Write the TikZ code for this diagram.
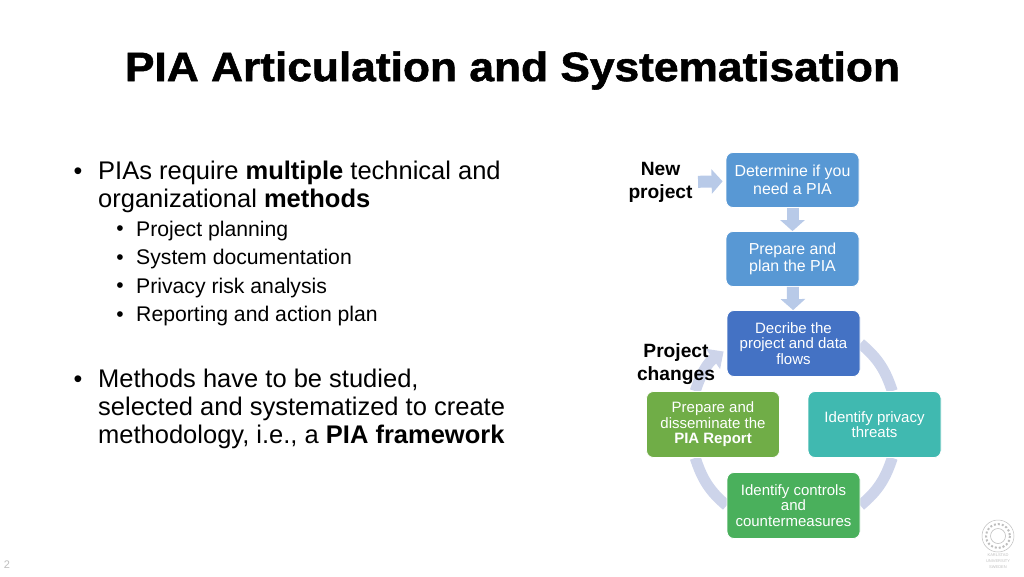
\documentclass[tikz,border=0pt]{standalone}
\usepackage{fontspec}
\setmainfont{Liberation Sans}
\newfontfamily\titlefont[FakeBold=1.3]{Liberation Sans Bold}
\usetikzlibrary{arrows.meta, calc, backgrounds}
\definecolor{boxblue}{RGB}{88,152,212}
\definecolor{boxdark}{RGB}{68,114,196}
\definecolor{boxteal}{RGB}{64,185,176}
\definecolor{boxgreen}{RGB}{74,176,92}
\definecolor{boxolive}{RGB}{112,173,71}
\definecolor{arrowblue}{RGB}{184,202,232}
\definecolor{ringblue}{RGB}{205,212,234}
\definecolor{logogrey}{RGB}{190,190,190}
\tikzset{
  stepbox/.style={draw=white, line width=0.8pt, rounded corners=7pt, text=white, align=center,
    font=\fontsize{15}{15.4}\selectfont, inner sep=0pt, minimum width=133pt, minimum height=66pt},
  topbox/.style={stepbox, fill=boxblue, minimum height=55pt, font=\fontsize{15.9}{17.4}\selectfont},
  downarrow/.style={draw=arrowblue, line width=12pt, -{Triangle[length=11pt, width=24pt]}},
  ringarc/.style={draw=ringblue, line width=11pt},
  sidelabel/.style={font=\fontsize{19.2}{23}\selectfont\bfseries, align=center, text=black},
  mainitem/.style={anchor=north west, align=left, inner sep=0pt, font=\fontsize{25.5}{28}\selectfont},
  subitem/.style={anchor=west, inner sep=0pt, font=\fontsize{21.2}{28}\selectfont},
  logotext/.style={font=\fontsize{4}{5}\selectfont, text=logogrey, inner sep=0pt}
}
\begin{document}
\begin{tikzpicture}[x=1pt, y=-1pt]
\useasboundingbox (0,0) rectangle (1024,576);
\path
(512.5,70.5) node (title) [font=\fontsize{41}{41}\titlefont, xscale=1.08, inner sep=0pt]{PIA Articulation and Systematisation};
% left column
\path
(78,174) node (dotone) [font=\fontsize{25}{28}\selectfont]{•};
\path
(98,161) node (itemone) [mainitem]{PIAs require \textbf{multiple} technical and\\organizational \textbf{methods}};
\foreach \i/\t in {0/Project planning, 1/System documentation, 2/Privacy risk analysis, 3/Reporting and action plan} {
  \path (120,231+28.4*\i) node [font=\fontsize{21}{28}\selectfont]{•};
  \path (136,231+28.4*\i) node [subitem]{\t};
}
\path
(78,382) node (dottwo) [font=\fontsize{25}{28}\selectfont]{•};
\path
(98,369) node (itemtwo) [mainitem]{Methods have to be studied,\\selected and systematized to create\\methodology, i.e., a \textbf{PIA framework}};
\path
(7,565) node (pagenum) [font=\fontsize{11}{11}\selectfont, text=logogrey]{2};
% process boxes
\path
(792.5,180) node (determine) [topbox]{Determine if you\\need a PIA};
\path
(792.5,259) node (prepare) [topbox]{Prepare and\\plan the PIA};
\path
(793.5,343.5) node (describe) [stepbox, fill=boxdark]{Decribe the\\project and data\\flows};
\path
(874.5,424.5) node (threats) [stepbox, fill=boxteal]{Identify privacy\\threats};
\path
(793.5,505.5) node (controls) [stepbox, fill=boxgreen]{Identify controls\\and\\countermeasures};
\path
(713,424.5) node (report) [stepbox, fill=boxolive]{Prepare and\\disseminate the\\\textbf{PIA Report}};
\path
(660.5,182.5) node (newproject) [sidelabel]{New\\project};
\path
(676,364.5) node (changes) [sidelabel]{Project\\changes};
% arrows
\draw[downarrow] (determine) -- (prepare);
\draw[downarrow] (prepare) -- (describe);
\draw[downarrow, shorten <=2pt, shorten >=3pt] (newproject) -- (determine);
\coordinate (changestip) at ($(describe.west)+(-3,8)$);
\begin{pgfonlayer}{background}
\draw[ringarc] (describe.east) to[out=-40, in=108] (threats.62);
\draw[ringarc] (threats.-62) to[out=-108, in=40] (controls.east);
\draw[ringarc] (controls.west) to[out=140, in=-72] (report.-118);
\draw[ringarc, -{Triangle[length=13pt, width=24pt]}] (report.118) to[out=72, in=215] (changestip);
\end{pgfonlayer}
% logo
\coordinate (logocentre) at (998,536);
\draw[logogrey, line width=0.5pt] (logocentre) circle (16);
\draw[logogrey, line width=2pt, dotted] (logocentre) circle (12);
\draw[logogrey, line width=0.6pt] (logocentre) circle (7.5);
\path
(998,555) node (logoa) [logotext]{KARLSTAD};
\path
(998,561) node (logob) [logotext]{UNIVERSITY};
\path
(998,567) node (logoc) [logotext]{SWEDEN};
\end{tikzpicture}
\end{document}
